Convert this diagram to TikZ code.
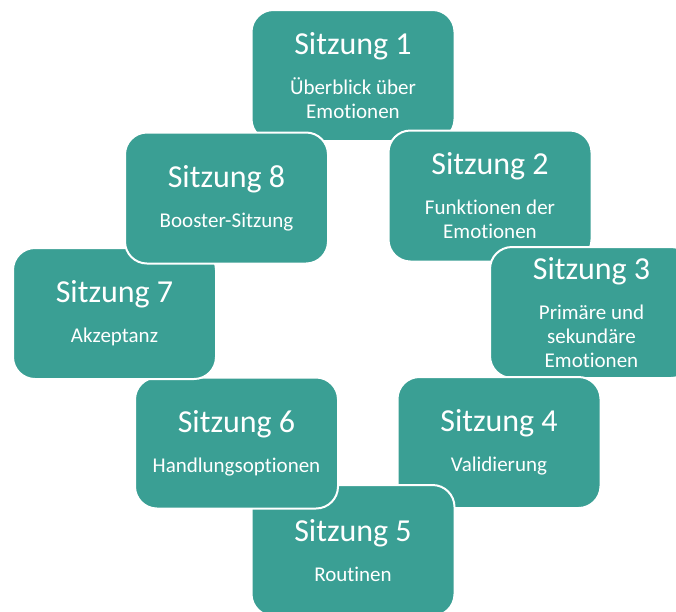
\documentclass[tikz,border=0pt]{standalone}
\usepackage{fontspec}
\setmainfont{Carlito}[Ligatures={NoCommon}]
\usepackage{xcolor}
\definecolor{sessionTeal}{RGB}{58,159,148}
\tikzset{
  session/.style={
    rectangle,
    rounded corners=22pt,
    fill=sessionTeal,
    draw=white,
    line width=2pt,
    text=white,
    align=center,
    minimum width=203pt,
    minimum height=131pt,
    inner sep=0pt,
    font=\fontsize{21}{24}\selectfont
  }
}
\begin{document}
\begin{tikzpicture}[x=1pt,y=-1pt]
  \useasboundingbox (0,0) rectangle (676,611);
  \clip (0,0) rectangle (676,611);

  \foreach \i/\x/\y/\topic in {
      1/353/75.5/{Überblick über\\Emotionen},
      2/490/196/{Funktionen der\\Emotionen},
      3/591.5/312.5/{Primäre und\\sekundäre\\Emotionen},
      4/499/442.5/{Validierung},
      5/353/550.5/{Routinen},
      6/236.5/443/{Handlungsoptionen},
      7/114.5/313.5/{Akzeptanz},
      8/226.5/198/{Booster-Sitzung}}{
    \node[session] (s\i) at (\x,\y)
      {{\fontsize{32}{32}\selectfont Sitzung \i}\\[16pt]\topic};
  }
\end{tikzpicture}
\end{document}
